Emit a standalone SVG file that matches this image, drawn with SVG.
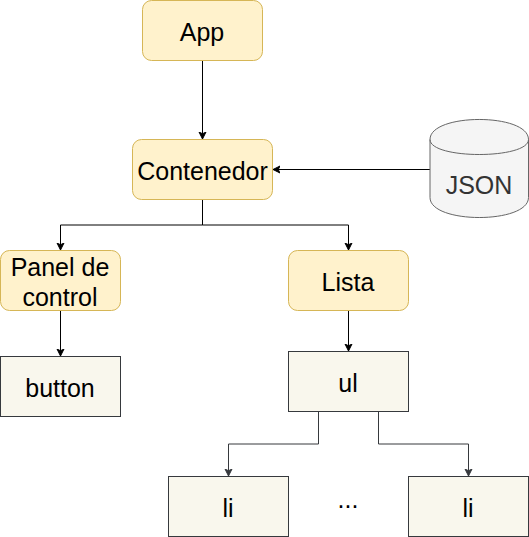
<svg xmlns="http://www.w3.org/2000/svg" width="529" height="537" viewBox="0 0 529 537">
<style>
text{font-family:"Liberation Sans",Arial,sans-serif;font-size:25px;text-anchor:middle;fill:#000}
.y{fill:#fff2cc;stroke:#d6b656}
.b{fill:#f9f7ed;stroke:#36393d}
.c{fill:none;stroke:#000}
.d{fill:none;stroke:#36393d}
</style>
<defs>
<marker id="a" markerUnits="userSpaceOnUse" markerWidth="8" markerHeight="9" refX="7" refY="4.5" orient="auto"><path d="M0 1L7 4.5L0 8L1.75 4.5Z" fill="#000" stroke="#000"/></marker>
<marker id="g" markerUnits="userSpaceOnUse" markerWidth="8" markerHeight="9" refX="7" refY="4.5" orient="auto"><path d="M0 1L7 4.5L0 8L1.75 4.5Z" fill="#36393d" stroke="#36393d"/></marker>
</defs>
<g id="connectors">
<path class="c" marker-end="url(#a)" d="M202.5 60.5V139"/>
<path class="c" marker-end="url(#a)" d="M430 169.5H273"/>
<path class="c" marker-end="url(#a)" d="M202.5 199.5V225H60.5V250"/>
<path class="c" marker-end="url(#a)" d="M202.5 199.5V225H348.5V250"/>
<path class="c" marker-end="url(#a)" d="M60.5 310.5V356"/>
<path class="c" marker-end="url(#a)" d="M348.5 310.5V351"/>
<path class="d" marker-end="url(#g)" d="M318.5 411.5V444H228.5V476"/>
<path class="d" marker-end="url(#g)" d="M378.5 411.5V444H468.5V476"/>
</g>
<g id="app"><rect class="y" x="142.5" y="0.5" width="120" height="60" rx="9"/><text x="202" y="40.5">App</text></g>
<g id="contenedor"><rect class="y" x="132.5" y="139.5" width="140" height="60" rx="9"/><text x="202.5" y="179.5">Contenedor</text></g>
<g id="json"><path d="M430 139.5C430 112.8 528.5 112.8 528.5 139.5V197.5C528.5 224.2 430 224.2 430 197.5Z" fill="#f5f5f5" stroke="#666"/><path d="M430 139.5C430 159.5 528.5 159.5 528.5 139.5" fill="none" stroke="#666"/><text x="479" y="194" style="fill:#333">JSON</text></g>
<g id="panel"><rect class="y" x="0.5" y="250.5" width="120" height="60" rx="9"/><text x="60" y="275.5">Panel de</text><text x="60" y="305.5">control</text></g>
<g id="lista"><rect class="y" x="288.5" y="250.5" width="120" height="60" rx="9"/><text x="348" y="290.5">Lista</text></g>
<g id="button"><rect class="b" x="0.5" y="356.5" width="120" height="60"/><text x="60" y="396.5">button</text></g>
<g id="ul"><rect class="b" x="288.5" y="351.5" width="120" height="60"/><text x="348" y="391.5">ul</text></g>
<g id="li1"><rect class="b" x="168.5" y="476.5" width="120" height="60"/><text x="228" y="516.5">li</text></g>
<g id="li2"><rect class="b" x="408.5" y="476.5" width="120" height="60"/><text x="468" y="516.5">li</text></g>
<text x="348" y="508">...</text>
</svg>
